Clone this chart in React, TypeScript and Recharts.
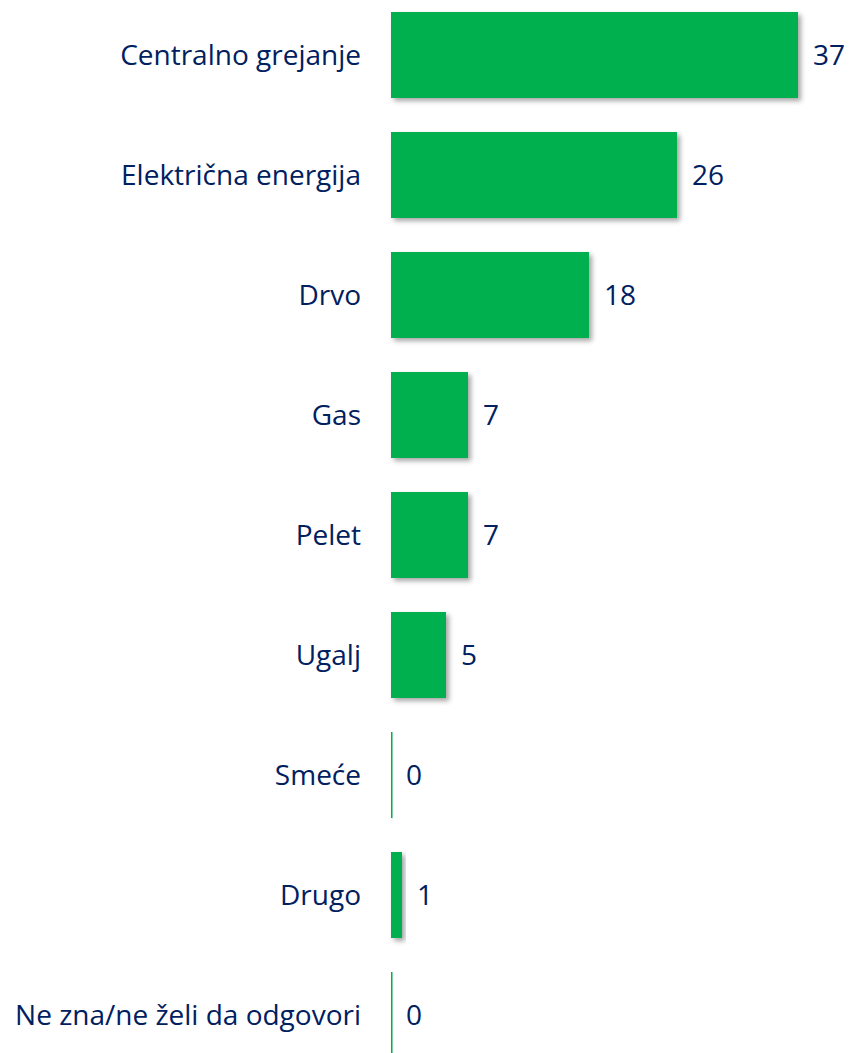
import React from "react";
import { BarChart, Bar, XAxis, YAxis, LabelList } from "recharts";

const categories = [
  "Centralno grejanje",
  "Električna energija",
  "Drvo",
  "Gas",
  "Pelet",
  "Ugalj",
  "Smeće",
  "Drugo",
  "Ne zna/ne želi da odgovori",
];
const values = [37, 26, 18, 7, 7, 5, 0, 1, 0];

const data = categories.map((name, i) => ({ name, value: values[i] }));

const GREEN = "#00B050";
const NAVY = "#002060";
const FONT = "'Open Sans', sans-serif";

const BarShape = (props: any) => {
  const { x, y, width, height } = props;
  const w = Math.max(width, 1.5);
  return (
    <rect x={x} y={y} width={w} height={height} fill={GREEN} filter="url(#barShadow)" />
  );
};

export default function App() {
  return (
    <div style={{ position: "absolute", left: 0, top: 0, width: 853, height: 1053, overflow: "hidden", background: "#fff" }}>
      <div style={{ position: "absolute", left: 0, top: -5 }}>
        <BarChart
          width={853}
          height={1080}
          data={data}
          layout="vertical"
          margin={{ top: 0, right: 22, bottom: 0, left: 0 }}
          barSize={86}
        >
          <defs>
            <filter id="barShadow" x="-20%" y="-20%" width="150%" height="150%">
              <feDropShadow dx="3" dy="3" stdDeviation="2.5" floodColor="#000" floodOpacity="0.35" />
            </filter>
          </defs>
          <XAxis type="number" domain={[0, 40]} hide />
          <YAxis
            type="category"
            dataKey="name"
            width={391}
            axisLine={false}
            tickLine={false}
            tickSize={0}
            tickMargin={30}
            tick={{ fill: NAVY, fontSize: 28, fontFamily: FONT }}
            interval={0}
          />
          <Bar dataKey="value" isAnimationActive={false} shape={<BarShape />}>
            <LabelList
              dataKey="value"
              position="right"
              offset={15}
              fill={NAVY}
              fontSize={28}
              fontFamily={FONT}
            />
          </Bar>
        </BarChart>
      </div>
    </div>
  );
}
